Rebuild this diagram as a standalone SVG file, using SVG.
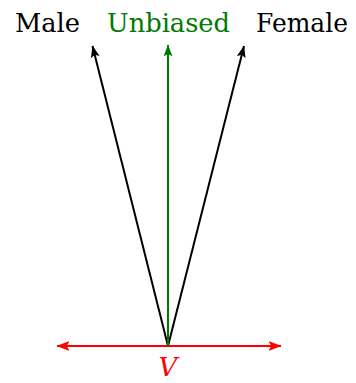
<svg xmlns="http://www.w3.org/2000/svg" width="356" height="383" viewBox="0 0 356 383">
<style>
text{font-family:'DejaVu Serif',serif;font-size:26px;text-anchor:middle}
.ln{fill:none;stroke-width:2}
</style>
<defs>
<marker id="ab" viewBox="0 0 12 9" refX="11.5" refY="4.5" markerWidth="12" markerHeight="9" markerUnits="userSpaceOnUse" orient="auto-start-reverse">
<path d="M0,0 L12,4.5 L0,9 L2.5,4.5 Z" fill="#000"/>
</marker>
<marker id="ag" viewBox="0 0 12 9" refX="11.5" refY="4.5" markerWidth="12" markerHeight="9" markerUnits="userSpaceOnUse" orient="auto-start-reverse">
<path d="M0,0 L12,4.5 L0,9 L2.5,4.5 Z" fill="#007a00"/>
</marker>
<marker id="ar" viewBox="0 0 12 9" refX="11.5" refY="4.5" markerWidth="13" markerHeight="9.75" markerUnits="userSpaceOnUse" orient="auto-start-reverse">
<path d="M0,0 L12,4.5 L0,9 L2.5,4.5 Z" fill="#ff0000"/>
</marker>
</defs>
<g id="connectors">
<line class="ln" x1="57" y1="346" x2="281" y2="346" stroke="#ff0000" marker-start="url(#ar)" marker-end="url(#ar)"/>
<line class="ln" x1="168" y1="346" x2="92.5" y2="46" stroke="#000" marker-end="url(#ab)"/>
<line class="ln" x1="168" y1="346" x2="244" y2="46" stroke="#000" marker-end="url(#ab)"/>
<line class="ln" x1="168" y1="346" x2="168" y2="45" stroke="#007a00" marker-end="url(#ag)"/>
</g>
<g id="male"><text x="47.5" y="32" textLength="65" lengthAdjust="spacingAndGlyphs" fill="#000">Male</text></g>
<g id="unbiased"><text x="168.5" y="32" textLength="123" lengthAdjust="spacingAndGlyphs" fill="#007a00">Unbiased</text></g>
<g id="female"><text x="302" y="32" textLength="92" lengthAdjust="spacingAndGlyphs" fill="#000">Female</text></g>
<g id="v"><text x="168" y="376" fill="#ff0000" font-style="italic" font-size="28">V</text></g>
</svg>
